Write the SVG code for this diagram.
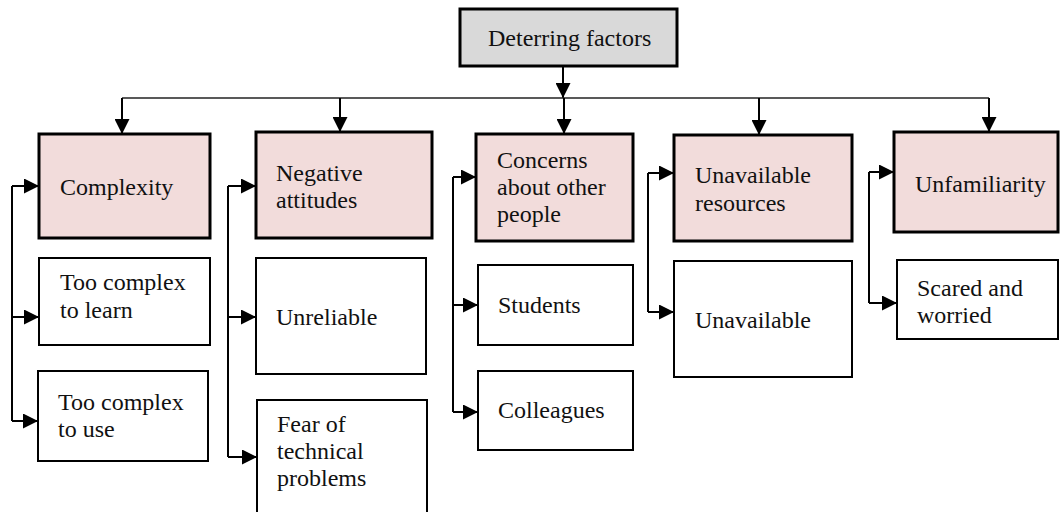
<svg xmlns="http://www.w3.org/2000/svg" width="1063" height="512" viewBox="0 0 1063 512" font-family="'Liberation Serif', 'DejaVu Serif', serif">
<style>
.hdr{fill:#f2dcdb;stroke:#000;stroke-width:3}
.top{fill:#d9d9d9;stroke:#000;stroke-width:3}
.sub{fill:#fff;stroke:#000;stroke-width:2}
text{font-family:'Liberation Serif', 'DejaVu Serif', serif;font-size:24px;fill:#111}
.ln{fill:none;stroke:#000;stroke-width:2}
.hl{fill:none;stroke:#222;stroke-width:1.5}
</style>
<defs>
<marker id="ah" markerUnits="userSpaceOnUse" markerWidth="15" markerHeight="15" refX="15" refY="7.5" orient="auto">
<path d="M0,0 L15,7.5 L0,15 z" fill="#000"/>
</marker>
</defs>
<rect width="1063" height="512" fill="#fff"/>
<g id="connectors">
<path class="ln" d="M563 66 V98" marker-end="url(#ah)"/>
<path class="hl" d="M122 98 H989"/>
<path class="ln" d="M122 98 V134" marker-end="url(#ah)"/>
<path class="ln" d="M340 98 V132" marker-end="url(#ah)"/>
<path class="ln" d="M564 98 V134" marker-end="url(#ah)"/>
<path class="ln" d="M759 98 V135" marker-end="url(#ah)"/>
<path class="ln" d="M989 98 V132" marker-end="url(#ah)"/>
<path class="ln" d="M12 186 V421"/>
<path class="ln" d="M12 186 H39" marker-end="url(#ah)"/>
<path class="ln" d="M12 317 H39" marker-end="url(#ah)"/>
<path class="ln" d="M12 421 H38" marker-end="url(#ah)"/>
<path class="ln" d="M228 186 V457"/>
<path class="ln" d="M228 186 H256" marker-end="url(#ah)"/>
<path class="ln" d="M228 317 H256" marker-end="url(#ah)"/>
<path class="ln" d="M228 457 H257" marker-end="url(#ah)"/>
<path class="ln" d="M453 177 V412"/>
<path class="ln" d="M453 177 H476" marker-end="url(#ah)"/>
<path class="ln" d="M453 305 H478" marker-end="url(#ah)"/>
<path class="ln" d="M453 412 H478" marker-end="url(#ah)"/>
<path class="ln" d="M648 173 V312"/>
<path class="ln" d="M648 173 H674" marker-end="url(#ah)"/>
<path class="ln" d="M648 312 H674" marker-end="url(#ah)"/>
<path class="ln" d="M869 172 V303"/>
<path class="ln" d="M869 172 H894" marker-end="url(#ah)"/>
<path class="ln" d="M869 303 H897" marker-end="url(#ah)"/>
</g>
<g id="deterring"><rect class="top" x="460" y="9" width="217" height="57"/><text x="488" y="46">Deterring factors</text></g>
<g id="complexity"><rect class="hdr" x="39" y="134" width="171" height="104"/><text x="60" y="195">Complexity</text></g>
<g id="negative"><rect class="hdr" x="256" y="132" width="176" height="106"/><text x="276" y="181">Negative</text><text x="276" y="208">attitudes</text></g>
<g id="concerns"><rect class="hdr" x="476" y="134" width="157" height="107"/><text x="497" y="168">Concerns</text><text x="497" y="195">about other</text><text x="497" y="222">people</text></g>
<g id="resources"><rect class="hdr" x="674" y="135" width="178" height="106"/><text x="695" y="183">Unavailable</text><text x="695" y="211">resources</text></g>
<g id="unfamiliarity"><rect class="hdr" x="894" y="132" width="164" height="100"/><text x="915" y="192">Unfamiliarity</text></g>
<g id="learn"><rect class="sub" x="39" y="258" width="171" height="87"/><text x="60" y="290">Too complex</text><text x="60" y="318">to learn</text></g>
<g id="use"><rect class="sub" x="38" y="371" width="170" height="90"/><text x="58" y="410">Too complex</text><text x="58" y="437">to use</text></g>
<g id="unreliable"><rect class="sub" x="256" y="258" width="170" height="116"/><text x="276" y="325">Unreliable</text></g>
<g id="fear"><rect class="sub" x="257" y="400" width="170" height="130"/><text x="277" y="432">Fear of</text><text x="277" y="459">technical</text><text x="277" y="486">problems</text></g>
<g id="students"><rect class="sub" x="478" y="265" width="155" height="80"/><text x="498" y="313">Students</text></g>
<g id="colleagues"><rect class="sub" x="478" y="371" width="155" height="79"/><text x="498" y="418">Colleagues</text></g>
<g id="unavailable"><rect class="sub" x="674" y="261" width="178" height="116"/><text x="695" y="328">Unavailable</text></g>
<g id="scared"><rect class="sub" x="897" y="260" width="161" height="79"/><text x="917" y="296">Scared and</text><text x="917" y="323">worried</text></g>
</svg>
